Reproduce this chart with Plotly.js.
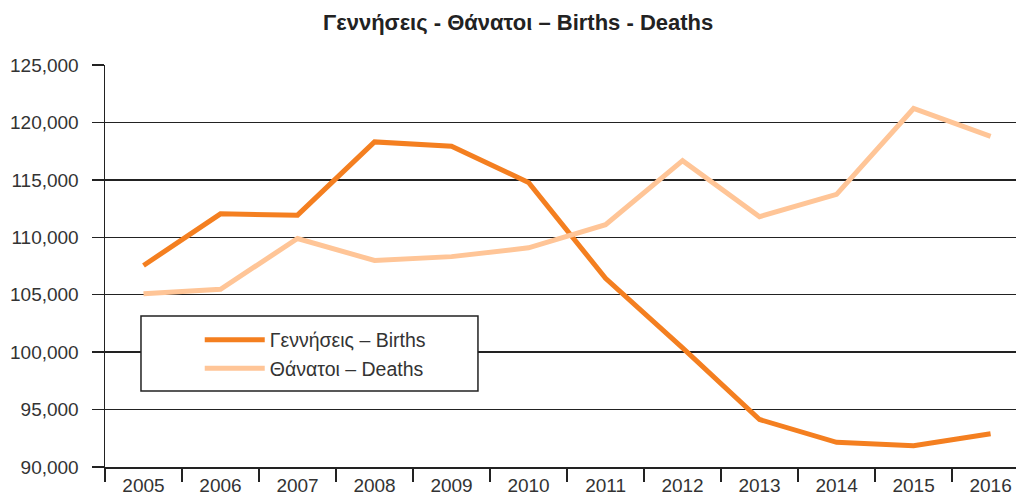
<!DOCTYPE html>
<html>
<head>
<meta charset="utf-8">
<script src="https://cdn.plot.ly/plotly-3.0.1.min.js"></script>
<style>html,body{margin:0;padding:0;background:#fff;}#chart{width:1016px;height:501px;}</style>
</head>
<body>
<div id="chart"></div>
<script>
const years = ['2005','2006','2007','2008','2009','2010','2011','2012','2013','2014','2015','2016'];
const births = [107545, 112042, 111926, 118302, 117933, 114766, 106428, 100371, 94134, 92149, 91847, 92898];
const deaths = [105091, 105476, 109895, 107979, 108316, 109084, 111099, 116668, 111794, 113740, 121212, 118788];
const yTicks = [90000, 95000, 100000, 105000, 110000, 115000, 120000, 125000];
const yTickText = ['90,000','95,000','100,000','105,000','110,000','115,000','120,000','125,000'];

const FONT = 'Liberation Sans, Arial, sans-serif';

const traces = [
  {x: years, y: births, type: 'scatter', mode: 'lines', name: 'Γεννήσεις – Births',
   line: {color: '#F47F20', width: 5}},
  {x: years, y: deaths, type: 'scatter', mode: 'lines', name: 'Θάνατοι – Deaths',
   line: {color: '#FFC597', width: 5}}
];

const layout = {
  width: 1016, height: 501,
  margin: {l: 105, r: 0, t: 65, b: 34},
  paper_bgcolor: '#fff', plot_bgcolor: '#fff',
  font: {family: FONT, color: '#333'},
  title: {text: '<b>Γεννήσεις - Θάνατοι – Births - Deaths</b>', font: {family: FONT, size: 22, color: '#222'},
          x: 0.51, xanchor: 'center', y: 0.955, yanchor: 'middle', yref: 'container'},
  xaxis: {type: 'category', range: [-0.5, 11.33], tickson: 'boundaries', ticks: 'outside', ticklen: 13,
          tickcolor: '#222', tickwidth: 1.5, showgrid: false, showline: true, linecolor: '#222', linewidth: 1.5,
          ticklabelstandoff: 1,
          tickfont: {family: FONT, size: 19, color: '#333'}, zeroline: false, fixedrange: true},
  yaxis: {range: [90000, 125000], tickmode: 'array', tickvals: yTicks, ticktext: yTickText,
          ticks: 'outside', ticklen: 12, tickcolor: '#222', tickwidth: 1.5, ticklabelstandoff: 9,
          showgrid: true, gridcolor: '#222', gridwidth: 1.5, showline: true, linecolor: '#222', linewidth: 1.5,
          zeroline: false, tickfont: {family: FONT, size: 19, color: '#333'}, fixedrange: true},
  shapes: [{type: 'rect', xref: 'paper', yref: 'paper', x0: 0.0395, x1: 0.4094, y0: 0.189, y1: 0.3756,
            line: {color: '#222', width: 1.5}, fillcolor: '#fff', layer: 'above'}],
  legend: {x: 0.104, y: 0.364, xanchor: 'left', yanchor: 'top', bgcolor: 'rgba(0,0,0,0)', borderwidth: 0,
           font: {family: FONT, size: 19.5, color: '#333'}, itemwidth: 60},
  showlegend: true
};

Plotly.newPlot('chart', traces, layout, {displayModeBar: false, staticPlot: true});
</script>
</body>
</html>
